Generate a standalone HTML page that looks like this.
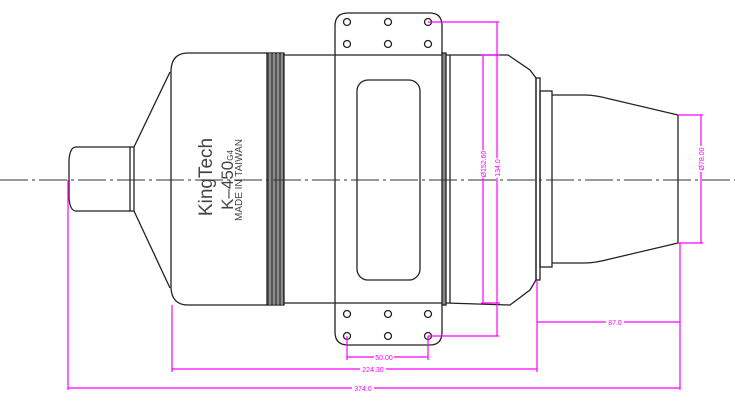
<!DOCTYPE html>
<html><head><meta charset="utf-8"><style>
html,body{margin:0;padding:0;background:#fff;width:735px;height:410px;overflow:hidden}
svg{display:block}
</style></head><body>
<svg width="735" height="410" viewBox="0 0 735 410" xmlns="http://www.w3.org/2000/svg" font-family="Liberation Sans, sans-serif">
<g fill="none" stroke="#222" stroke-width="1.3">
<!-- nose -->
<path d="M130,147 L76,147 Q70,147 69,160 L69,198 Q70,211 76,211 L130,211"/>
<rect x="130" y="147" width="4" height="64"/>
<path d="M134,147 L170,72 M134,211 L170,288"/>
<!-- front body -->
<path d="M267,53 L188,53 Q172,53 171,70 L171,288 Q172,305 188,305 L267,305"/>
<!-- rings -->
<rect x="267" y="53" width="17" height="252" fill="#555" stroke="#222"/>
<line x1="270" y1="53" x2="270" y2="305" stroke="#ddd" stroke-width="0.8"/>
<line x1="274" y1="53" x2="274" y2="305" stroke="#ddd" stroke-width="0.8"/>
<line x1="278" y1="53" x2="278" y2="305" stroke="#ddd" stroke-width="0.8"/>
<line x1="282" y1="53" x2="282" y2="305" stroke="#ddd" stroke-width="0.8"/>
<!-- main body -->
<path d="M284,55 L442,55 M284,303 L442,303"/>
<!-- mount plate -->
<path d="M335,55 L335,26 Q335,13 348,13 L430,13 Q442,13 442,26 L442,55"/>
<path d="M335,303 L335,332 Q335,345 348,345 L430,345 Q442,345 442,332 L442,303"/>
<line x1="335" y1="55" x2="335" y2="303"/>
<rect x="357" y="80" width="63" height="200" rx="11"/>
<circle cx="347" cy="22" r="3.5"/><circle cx="388" cy="22" r="3.5"/><circle cx="428" cy="22" r="3.5"/>
<circle cx="347" cy="44" r="3.5"/><circle cx="388" cy="44" r="3.5"/><circle cx="428" cy="44" r="3.5"/>
<circle cx="347" cy="314" r="3.5"/><circle cx="388" cy="314" r="3.5"/><circle cx="428" cy="314" r="3.5"/>
<circle cx="347" cy="336" r="3.5"/><circle cx="388" cy="336" r="3.5"/><circle cx="428" cy="336" r="3.5"/>
<!-- rear -->
<rect x="442" y="53" width="4" height="252" fill="#888"/>
<line x1="450" y1="55" x2="450" y2="303"/>
<path d="M446,55 L508,55 L530,70 L536,78 L536,280 L530,290 L510,305 L446,303"/>
<rect x="536" y="78" width="4" height="202"/>
<rect x="540" y="91" width="12" height="176"/>
<path d="M552,95 L585,95 Q595,95 610,99 L678,115 L678,243 L610,259 Q595,263 585,263 L552,263"/>
</g>
<!-- centerline -->
<line x1="0" y1="180" x2="735" y2="180" stroke="#333" stroke-width="1" stroke-dasharray="28,4,3,4"/>
<!-- text -->
<g fill="#444" transform="rotate(-90)">
<text x="-177" y="212" font-size="19" text-anchor="middle">KingTech</text>
<text x="-180" y="233" font-size="17" text-anchor="middle">K–450<tspan font-size="8">G4</tspan></text>
<text x="-180" y="242" font-size="10" text-anchor="middle">MADE IN TAIWAN</text>
</g>
<!-- dimensions -->
<g stroke="#ff00ff" stroke-width="1.2" fill="none">
<line x1="68" y1="180" x2="68" y2="390"/>
<line x1="172" y1="305" x2="172" y2="372"/>
<line x1="537" y1="280" x2="537" y2="372"/>
<line x1="680" y1="243" x2="680" y2="390"/>
<line x1="347" y1="336" x2="347" y2="360"/>
<line x1="428" y1="336" x2="428" y2="360"/>
<line x1="68" y1="388" x2="680" y2="388"/>
<line x1="172" y1="369" x2="537" y2="369"/>
<line x1="347" y1="357" x2="428" y2="357"/>
<line x1="537" y1="322" x2="680" y2="322"/>
<line x1="428" y1="22" x2="499" y2="22"/>
<line x1="428" y1="336" x2="499" y2="336"/>
<line x1="497" y1="22" x2="497" y2="336"/>
<line x1="481" y1="55" x2="500" y2="55"/>
<line x1="481" y1="303" x2="500" y2="303"/>
<line x1="483" y1="55" x2="483" y2="303"/>
<line x1="678" y1="115" x2="703" y2="115"/>
<line x1="678" y1="243" x2="703" y2="243"/>
<line x1="701" y1="115" x2="701" y2="243"/>
</g>
<g fill="#ff00ff" font-size="7">
<rect x="352" y="384" width="22" height="8" fill="#fff"/><text x="363" y="391" text-anchor="middle">374.0</text>
<rect x="360" y="365" width="26" height="8" fill="#fff"/><text x="373" y="372" text-anchor="middle">224.30</text>
<rect x="374" y="353" width="20" height="8" fill="#fff"/><text x="384" y="360" text-anchor="middle">50.00</text>
<rect x="606" y="318" width="18" height="8" fill="#fff"/><text x="615" y="325" text-anchor="middle">87.0</text>
<g transform="rotate(-90)">
<rect x="-178" y="479" width="28" height="8" fill="#fff"/><text x="-164" y="486" text-anchor="middle">Ø152.60</text>
<rect x="-178" y="493" width="20" height="8" fill="#fff"/><text x="-168" y="500" text-anchor="middle">134.0</text>
<rect x="-172" y="697" width="26" height="8" fill="#fff"/><text x="-159" y="704" text-anchor="middle">Ø78.00</text>
</g>
</g>
</svg>
</body></html>
